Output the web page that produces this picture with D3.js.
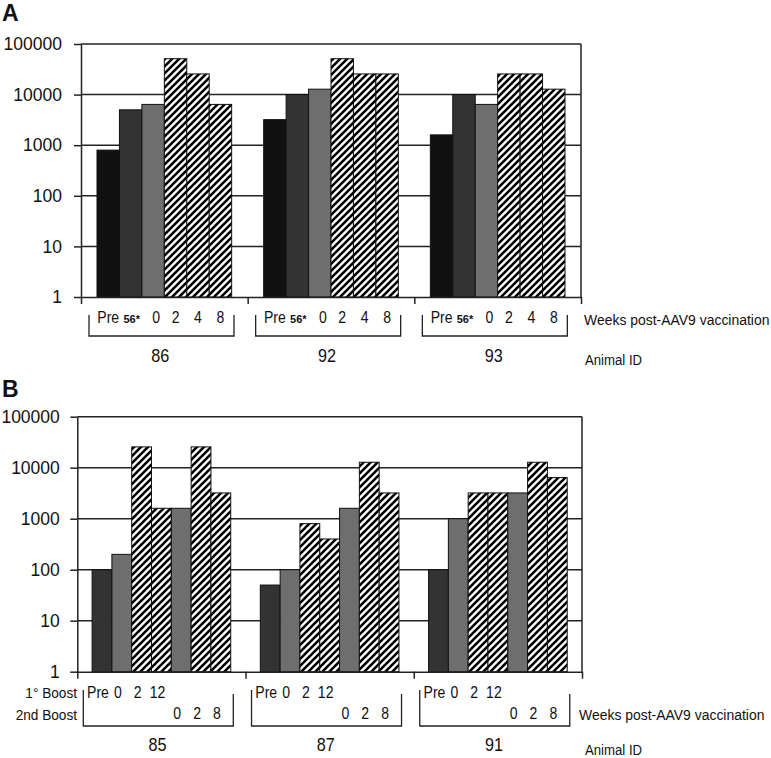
<!DOCTYPE html>
<html><head><meta charset="utf-8">
<script src="https://cdn.jsdelivr.net/npm/d3@7"></script>
<style>body{margin:0;background:#fff}</style>
</head><body>
<svg id="chart" width="771" height="758"></svg>
<script>
// ---------- Panel A data ----------
const animalsA = ["86", "92", "93"];
const weeksA = ["Pre", "56*", "0", "2", "4", "8"];
const titerA86 = [800, 5000, 6400, 51200, 25600, 6400];
const titerA92 = [3200, 10000, 12800, 51200, 25600, 25600];
const titerA93 = [1600, 10000, 6400, 25600, 25600, 12800];
// ---------- Panel B data ----------
const animalsB = ["85", "87", "91"];
const boost1Weeks = ["Pre", "0", "2", "12"];
const boost2Weeks = ["0", "2", "8"];
const titerB85 = [100, 200, 25600, 1600, 1600, 25600, 3200];
const titerB87 = [50, 100, 800, 400, 1600, 12800, 3200];
const titerB91 = [100, 1000, 3200, 3200, 3200, 12800, 6400];
const yTicks = [1, 10, 100, 1000, 10000, 100000];

const svg = d3.select("#chart");
const defs = svg.append("defs");
const pat = defs.append("pattern").attr("id", "hatch")
  .attr("patternUnits", "userSpaceOnUse").attr("width", 7).attr("height", 7);
pat.append("rect").attr("width", 7).attr("height", 7).attr("fill", "#fff");
pat.append("path").attr("d", "M-1.75,1.75 L1.75,-1.75 M0,7 L7,0 M5.25,8.75 L8.75,5.25")
  .attr("stroke", "#000").attr("stroke-width", 2.6);

const FONT = "'Liberation Sans', Arial, sans-serif";
const C_BLACK = "#111", C_DARK = "#333", C_GRAY = "#6e6e6e", HATCH = "url(#hatch)";

// condensed text (the source uses a narrow sans face)
function ntext(x, y, str, size, anchor, sx) {
  return svg.append("text")
    .attr("transform", `translate(${x},${y}) scale(${sx || 0.85},1)`)
    .attr("text-anchor", anchor || "start")
    .attr("font-family", FONT).attr("font-size", size).attr("fill", "#111").text(str);
}

function panel(cfg) {
  const g = svg.append("g");
  const y = d3.scaleLog().domain([1, 100000]).range([cfg.bottom, cfg.top]);
  const x = d3.scaleBand().domain(cfg.groups).range([cfg.left, cfg.right]).padding(0);
  const n = cfg.series[0].length;
  const xi = d3.scaleBand().domain(d3.range(n)).range([0, x.bandwidth()])
    .paddingInner(0).paddingOuter(cfg.outer);

  g.append("g").selectAll("line").data(yTicks.slice(1)).join("line")
    .attr("x1", cfg.left).attr("x2", cfg.right)
    .attr("y1", d => y(d)).attr("y2", d => y(d))
    .attr("stroke", "#222").attr("stroke-width", 1.5);
  g.append("line").attr("x1", cfg.right).attr("x2", cfg.right)
    .attr("y1", cfg.top).attr("y2", cfg.bottom)
    .attr("stroke", "#222").attr("stroke-width", 1.5);

  cfg.groups.forEach((grp, gi) => {
    g.append("g").selectAll("rect").data(cfg.series[gi]).join("rect")
      .attr("x", (d, j) => x(grp) + xi(j))
      .attr("width", xi.bandwidth())
      .attr("y", d => y(d))
      .attr("height", d => cfg.bottom - y(d))
      .attr("fill", (d, j) => cfg.fills[j])
      .attr("stroke", "#111").attr("stroke-width", 1);
  });

  const ya = g.append("g").attr("transform", `translate(${cfg.left},0)`)
    .call(d3.axisLeft(y).tickValues(yTicks).tickFormat(d3.format("d"))
      .tickSize(7).tickSizeOuter(0).tickPadding(cfg.tickPad));
  ya.selectAll("path,line").attr("stroke", "#222").attr("stroke-width", 1.5);
  ya.selectAll("text").attr("font-family", FONT).attr("font-size", 17.5).attr("fill", "#111");

  const xb = d3.scaleLinear().domain([0, cfg.groups.length]).range([cfg.left, cfg.right]);
  const xa = g.append("g").attr("transform", `translate(0,${cfg.bottom})`)
    .call(d3.axisBottom(xb).tickValues(d3.range(cfg.groups.length + 1))
      .tickFormat("").tickSize(7).tickSizeOuter(0));
  xa.selectAll("path,line").attr("stroke", "#222").attr("stroke-width", 1.5);

  svg.append("text").attr("x", 2).attr("y", cfg.letterY).text(cfg.letter)
    .attr("font-family", FONT).attr("font-weight", "bold").attr("font-size", 23).attr("fill", "#111");

  return {x, xi, y, g};
}

// ---------- Panel A ----------
const A = panel({
  letter: "A", letterY: 21,
  left: 81, right: 581, top: 44, bottom: 297,
  groups: animalsA, series: [titerA86, titerA92, titerA93],
  fills: [C_BLACK, C_DARK, C_GRAY, HATCH, HATCH, HATCH],
  outer: 0.713, tickPad: 12
});
animalsA.forEach(grp => {
  const b0 = A.x(grp);
  weeksA.forEach((w, j) => {
    const cx = b0 + A.xi(j) + A.xi.bandwidth() / 2 + (j === 2 ? 3 : 0);
    if (w === "56*") {
      svg.append("text").attr("x", cx + 1).attr("y", 323).attr("text-anchor", "middle")
        .attr("font-family", FONT).attr("font-weight", "bold").attr("font-size", 11)
        .attr("fill", "#111").text(w);
    } else {
      ntext(cx, 323, w, 16.5, "middle");
    }
  });
  const l = b0 + 8, r = b0 + 153;
  svg.append("path").attr("d", `M${l},315 V336 H${r} V315`)
    .attr("fill", "none").attr("stroke", "#222").attr("stroke-width", 1.3);
  ntext(b0 + A.x.bandwidth() / 2 - 4, 362, grp, 18, "middle", 0.9);
});
ntext(584, 325, "Weeks post-AAV9 vaccination", 15.5, "start", 0.9);
ntext(585, 365, "Animal ID", 15.5, "start", 0.85);

// ---------- Panel B ----------
const B = panel({
  letter: "B", letterY: 397,
  left: 77.3, right: 582, top: 416.7, bottom: 671.7,
  groups: animalsB, series: [titerB85, titerB87, titerB91],
  fills: [C_DARK, C_GRAY, HATCH, HATCH, C_GRAY, HATCH, HATCH],
  outer: 0.747, tickPad: 10.5
});
animalsB.forEach(grp => {
  const b0 = B.x(grp);
  const cxs = d3.range(7).map(j => b0 + B.xi(j) + B.xi.bandwidth() / 2 - 4);
  boost1Weeks.forEach((w, j) => ntext(cxs[j], 698, w, 16.5, "middle"));
  boost2Weeks.forEach((w, j) => ntext(cxs[j + 4], 719, w, 16.5, "middle"));
  const l = b0 + 6, r = b0 + 156;
  svg.append("path").attr("d", `M${l},690 V726 H${r} V694`)
    .attr("fill", "none").attr("stroke", "#222").attr("stroke-width", 1.3);
  ntext(b0 + B.x.bandwidth() / 2 - 4, 751, grp, 18, "middle", 0.9);
});
ntext(77, 698, "1° Boost", 15.5, "end", 0.88);
ntext(77, 720, "2nd Boost", 15.5, "end", 0.88);
ntext(579, 720, "Weeks post-AAV9 vaccination", 15.5, "start", 0.9);
ntext(585, 755, "Animal ID", 15.5, "start", 0.85);
</script>
</body></html>
